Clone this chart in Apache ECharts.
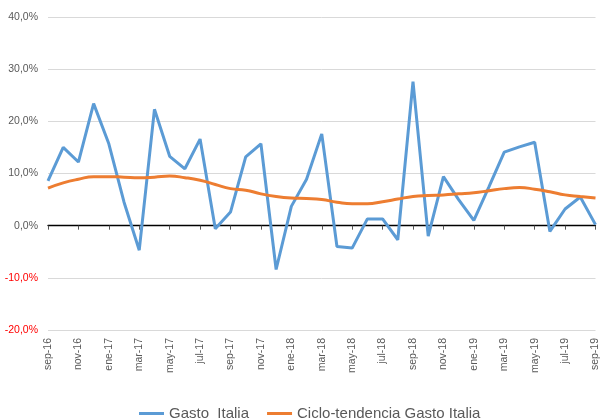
<!DOCTYPE html>
<html>
<head>
<meta charset="utf-8">
<script src="https://cdn.jsdelivr.net/npm/echarts@6/dist/echarts.min.js"></script>
<style>
  html, body { margin: 0; padding: 0; background: #fff; }
  #chart { width: 601px; height: 420px; }
</style>
</head>
<body>
<div id="chart"></div>
<script>
// meses sep-16 .. sep-19
var months = ['sep-16','oct-16','nov-16','dic-16','ene-17','feb-17','mar-17','abr-17','may-17','jun-17','jul-17','ago-17',
              'sep-17','oct-17','nov-17','dic-17','ene-18','feb-18','mar-18','abr-18','may-18','jun-18','jul-18','ago-18',
              'sep-18','oct-18','nov-18','dic-18','ene-19','feb-19','mar-19','abr-19','may-19','jun-19','jul-19','ago-19','sep-19'];
// Gasto Italia (%)
var gasto = [8.6, 15.0, 12.2, 23.4, 15.7, 4.5, -4.7, 22.3, 13.3, 10.9, 16.6, -0.6,
             2.6, 13.2, 15.7, -8.4, 3.7, 8.9, 17.6, -4.0, -4.3, 1.3, 1.3, -2.7,
             27.6, -2.0, 9.4, 5.0, 1.0, 7.5, 14.1, 15.1, 16.0, -1.1, 3.2, 5.5, 0.2];
// Ciclo-tendencia (%)
var tendencia = [7.2, 8.2, 8.9, 9.4, 9.4, 9.3, 9.2, 9.3, 9.5, 9.2, 8.7, 7.9,
                 7.1, 6.8, 6.1, 5.6, 5.3, 5.2, 5.0, 4.5, 4.2, 4.2, 4.6, 5.1,
                 5.6, 5.8, 5.9, 6.1, 6.3, 6.7, 7.1, 7.3, 7.0, 6.5, 5.9, 5.6, 5.3];
var yTicks = {min: -20, max: 40, interval: 10};

var font = "'Liberation Sans', sans-serif";
var chart = echarts.init(document.getElementById('chart'));
chart.setOption({
    animation: false,
    grid: {left: 48, right: 1, top: 17, bottom: 90, containLabel: false},
    legend: {
        bottom: -6,
        left: 134,
        icon: 'rect',
        itemWidth: 25,
        itemHeight: 3,
        itemGap: 18,
        textStyle: {color: '#595959', fontSize: 15, fontFamily: font},
        data: ['Gasto  Italia', 'Ciclo-tendencia Gasto Italia']
    },
    xAxis: [{
        type: 'category',
        data: months,
        boundaryGap: false,
        axisLine: {onZero: true, lineStyle: {color: '#000', width: 1.3}},
        axisTick: {interval: 1, length: 4, lineStyle: {color: '#555'}},
        axisLabel: {show: false},
        splitLine: {show: false}
    }, {
        type: 'category',
        data: months,
        boundaryGap: false,
        position: 'bottom',
        axisLine: {show: false, onZero: false},
        axisTick: {show: false},
        axisLabel: {interval: 1, rotate: 90, margin: 8, color: '#595959', fontSize: 10.5, fontFamily: font},
        splitLine: {show: false}
    }],
    yAxis: {
        type: 'value',
        min: yTicks.min,
        max: yTicks.max,
        interval: yTicks.interval,
        axisLine: {show: false},
        axisTick: {show: false},
        axisLabel: {
            margin: 10,
            fontSize: 10.5,
            fontFamily: font,
            color: function (v) { return v < 0 ? '#FF0000' : '#595959'; },
            formatter: function (v) { return v.toFixed(1).replace('.', ',') + '%'; }
        },
        splitLine: {lineStyle: {color: '#D9D9D9', width: 1}}
    },
    series: [{
        name: 'Gasto  Italia',
        type: 'line',
        data: gasto,
        symbol: 'none',
        lineStyle: {color: '#5B9BD5', width: 3},
        itemStyle: {color: '#5B9BD5'}
    }, {
        name: 'Ciclo-tendencia Gasto Italia',
        type: 'line',
        data: tendencia,
        symbol: 'none',
        smooth: true,
        lineStyle: {color: '#ED7D31', width: 3},
        itemStyle: {color: '#ED7D31'}
    }]
});
</script>
</body>
</html>
